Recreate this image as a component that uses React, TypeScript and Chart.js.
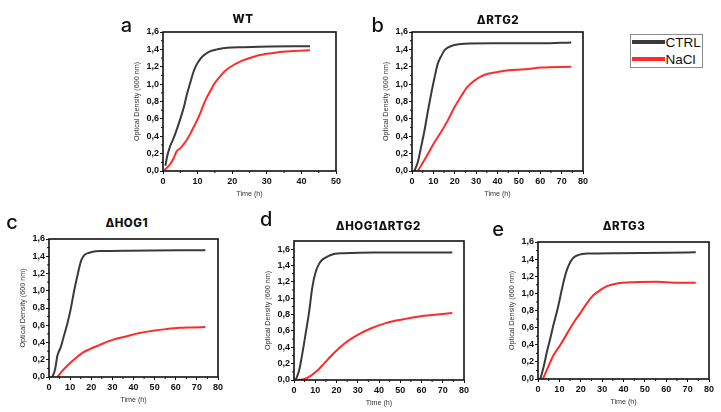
import React, { useEffect, useRef } from 'react';
import { Chart, registerables } from 'chart.js';
Chart.register(...registerables);

// ---------- DATA ----------
const seriesNames = ['CTRL', 'NaCl'];
const panelTitles = ['WT', 'ΔRTG2', 'ΔHOG1', 'ΔHOG1ΔRTG2', 'ΔRTG3'];
const panelLetters = ['a', 'b', 'c', 'd', 'e'];
const yAxisTitle = 'Optical Density (600 nm)';
const xAxisTitle = 'Time (h)';

// a – WT
const aCtrlT = [0.7, 1.2, 2.1, 3.1, 4.0, 5.0, 6.0, 6.9, 7.9, 8.8, 9.8, 10.8, 11.7, 13.7, 15.6, 18.5, 23.3, 28, 37.7, 42.5];
const aCtrl = [0.06, 0.17, 0.29, 0.38, 0.48, 0.6, 0.73, 0.88, 1.02, 1.14, 1.23, 1.29, 1.33, 1.38, 1.40, 1.42, 1.425, 1.43, 1.435, 1.435];
const aNaclT = [0.4, 1.2, 2.1, 3.1, 4.0, 5.0, 6.0, 6.9, 7.9, 8.8, 9.8, 10.8, 11.7, 12.7, 13.7, 14.6, 16.5, 18.5, 20.4, 22.3, 24.3, 28, 32.9, 37.7, 42.5];
const aNacl = [0.01, 0.04, 0.08, 0.15, 0.23, 0.26, 0.31, 0.36, 0.43, 0.50, 0.58, 0.67, 0.76, 0.85, 0.92, 0.99, 1.09, 1.17, 1.22, 1.26, 1.29, 1.335, 1.365, 1.38, 1.39];

// b – ΔRTG2
const bCtrlT = [1.1, 2.7, 4.2, 5.8, 7.3, 8.9, 10.5, 12, 13.6, 15.2, 16.7, 19.8, 24.5, 37, 60.5, 74.5];
const bCtrl = [0, 0.1, 0.27, 0.46, 0.67, 0.88, 1.07, 1.23, 1.32, 1.39, 1.42, 1.45, 1.465, 1.47, 1.47, 1.48];
const bNaclT = [2.7, 4.2, 7.3, 10.5, 13.6, 16.7, 19.8, 23, 26, 29.2, 32.3, 35.5, 40, 45, 52.8, 60.5, 74.5];
const bNacl = [0, 0.06, 0.19, 0.33, 0.45, 0.58, 0.73, 0.86, 0.97, 1.04, 1.09, 1.12, 1.14, 1.16, 1.17, 1.19, 1.20];

// c – ΔHOG1
const cCtrlT = [1.6, 2.9, 4.0, 5.5, 7.1, 8.7, 10.3, 11.9, 13.5, 15.1, 16.6, 19, 23.8, 38, 61.8, 74];
const cCtrl = [0, 0.09, 0.25, 0.34, 0.48, 0.62, 0.79, 1.0, 1.18, 1.34, 1.41, 1.44, 1.46, 1.465, 1.47, 1.47];
const cNaclT = [4.0, 6.3, 9.5, 12.7, 15.8, 19, 23.8, 30, 36.4, 42.8, 49.1, 55.5, 61.8, 68.1, 74];
const cNacl = [0, 0.07, 0.15, 0.22, 0.28, 0.32, 0.37, 0.43, 0.47, 0.51, 0.535, 0.555, 0.57, 0.575, 0.58];

// d – ΔHOG1ΔRTG2
const dCtrlT = [0.8, 2.4, 3.9, 5.5, 7.1, 8.6, 10.2, 11.8, 13.3, 15.7, 18.8, 23.5, 37.6, 61, 74.5];
const dCtrl = [0, 0.115, 0.32, 0.57, 0.83, 1.13, 1.32, 1.42, 1.47, 1.51, 1.54, 1.55, 1.56, 1.56, 1.56];
const dNaclT = [1.6, 4.7, 7.8, 11, 14.1, 17.3, 20.4, 23.5, 26.7, 29.8, 36.1, 42.4, 48.6, 55, 61.2, 67.5, 74.5];
const dNacl = [0, 0.01, 0.05, 0.115, 0.2, 0.29, 0.37, 0.44, 0.50, 0.55, 0.63, 0.69, 0.73, 0.76, 0.785, 0.80, 0.82];

// e – ΔRTG3
const eCtrlT = [1.1, 2.7, 4.2, 5.8, 7.3, 8.9, 10.5, 12, 13.6, 15.2, 16.7, 19, 23, 37, 60.5, 73.8];
const eCtrl = [0, 0.15, 0.32, 0.48, 0.64, 0.79, 0.97, 1.14, 1.28, 1.37, 1.42, 1.45, 1.465, 1.47, 1.475, 1.48];
const eNaclT = [2.3, 4.2, 5.8, 7.3, 10.5, 13.6, 16.7, 19.8, 23, 26, 29.2, 32.3, 37, 44.8, 55.8, 63.6, 73.8];
const eNacl = [0, 0.11, 0.2, 0.28, 0.40, 0.53, 0.66, 0.77, 0.89, 0.98, 1.04, 1.085, 1.115, 1.13, 1.135, 1.125, 1.125];

const xMaxes = [50, 80, 80, 80, 80];
const yMaxes = [1.6, 1.6, 1.6, 1.7, 1.6];

// ---------- STYLE / LAYOUT ----------
const CTRL_COLOR = '#3a3a3a';
const NACL_COLOR = '#ff2a2a';
const Y_W = 32;
const X_H = 30;
const PAD_T = 8;
const PAD_R = 10;

type Layout = {
  L: number; T: number; R: number; B: number;
  titleX: number; titleBase: number;
  letterX: number; letterBase: number;
};
const layouts: Layout[] = [
  { L: 163, T: 32, R: 336, B: 171, titleX: 243, titleBase: 24, letterX: 120.7, letterBase: 32.3 },
  { L: 412, T: 32, R: 583, B: 171, titleX: 498, titleBase: 24.7, letterX: 371.5, letterBase: 32.3 },
  { L: 49, T: 239, R: 218, B: 377, titleX: 126.7, titleBase: 228, letterX: 6.3, letterBase: 229 },
  { L: 294, T: 241, R: 464, B: 380, titleX: 378.3, titleBase: 230.7, letterX: 260, letterBase: 226.7 },
  { L: 538, T: 242, R: 709, B: 379, titleX: 624, titleBase: 231, letterX: 492.3, letterBase: 236 },
];

const panelData = [
  [aCtrlT, aCtrl, aNaclT, aNacl],
  [bCtrlT, bCtrl, bNaclT, bNacl],
  [cCtrlT, cCtrl, cNaclT, cNacl],
  [dCtrlT, dCtrl, dNaclT, dNacl],
  [eCtrlT, eCtrl, eNaclT, eNacl],
];

const framePlugin = {
  id: 'frameMinor',
  afterDatasetsDraw(chart: any) {
    const { ctx, chartArea, scales } = chart;
    const { left, top, right, bottom } = chartArea;
    ctx.save();
    ctx.strokeStyle = '#111';
    ctx.lineWidth = 1;
    ctx.beginPath();
    const xs = scales.x;
    for (let v = 5; v < xs.max; v += 10) {
      const px = xs.getPixelForValue(v);
      ctx.moveTo(px, bottom);
      ctx.lineTo(px, bottom + 2);
    }
    const ys = scales.y;
    for (let v = 0.1; v < ys.max - 0.001; v += 0.2) {
      const py = ys.getPixelForValue(v);
      ctx.moveTo(left, py);
      ctx.lineTo(left - 2, py);
    }
    ctx.stroke();
    ctx.lineWidth = 1.6;
    ctx.strokeRect(left, top, right - left, bottom - top);
    ctx.restore();
  },
};

const tickFont = { family: '"Liberation Sans", Arial, sans-serif', weight: 'bold' as const, size: 9 };
const titleFont = { family: '"Liberation Sans", Arial, sans-serif', size: 7.2, lineHeight: 1 };

function Panel({ idx }: { idx: number }) {
  const ref = useRef<HTMLCanvasElement>(null);
  const lay = layouts[idx];
  const cw = lay.R - lay.L + Y_W + PAD_R;
  const ch = lay.B - lay.T + PAD_T + X_H;
  useEffect(() => {
    const [ct, cv, nt, nv] = panelData[idx];
    const chart = new Chart(ref.current as HTMLCanvasElement, {
      type: 'line',
      data: {
        datasets: [
          {
            label: seriesNames[0],
            data: ct.map((t, i) => ({ x: t, y: cv[i] })),
            borderColor: CTRL_COLOR,
            borderWidth: 2,
            pointRadius: 0,
            cubicInterpolationMode: 'monotone',
            fill: false,
          },
          {
            label: seriesNames[1],
            data: nt.map((t, i) => ({ x: t, y: nv[i] })),
            borderColor: NACL_COLOR,
            borderWidth: 2,
            pointRadius: 0,
            cubicInterpolationMode: 'monotone',
            fill: false,
          },
        ],
      },
      options: {
        responsive: false,
        animation: false,
        layout: { padding: { top: PAD_T, right: PAD_R, left: 0, bottom: 0 } },
        plugins: { legend: { display: false }, tooltip: { enabled: false } },
        scales: {
          x: {
            type: 'linear',
            min: 0,
            max: xMaxes[idx],
            ticks: { stepSize: 10, font: tickFont, color: '#111', padding: 2, maxRotation: 0, autoSkip: false },
            grid: { drawOnChartArea: false, drawTicks: true, tickLength: 3, color: '#111' },
            border: { display: false },
            title: { display: true, text: xAxisTitle, font: titleFont, color: '#333', padding: { top: 0, bottom: 3.5 } },
            afterFit: (s: any) => { s.height = X_H; },
          },
          y: {
            type: 'linear',
            min: 0,
            max: yMaxes[idx],
            ticks: {
              stepSize: 0.2,
              includeBounds: false,
              font: tickFont,
              color: '#111',
              padding: 1,
              callback: (v: any) => Number(v).toFixed(1).replace('.', ','),
            },
            grid: { drawOnChartArea: false, drawTicks: true, tickLength: 3, color: '#111' },
            border: { display: false },
            title: { display: true, text: yAxisTitle, font: titleFont, color: '#333', padding: { top: 2.6, bottom: 0 } },
            afterFit: (s: any) => { s.width = Y_W; },
          },
        },
      },
      plugins: [framePlugin],
    } as any);
    return () => chart.destroy();
  }, [idx]);

  const titleSize = 11.5;
  const letterSize = 20;
  return (
    <>
      <canvas
        ref={ref}
        width={cw}
        height={ch}
        style={{ position: 'absolute', left: lay.L - Y_W, top: lay.T - PAD_T, width: cw, height: ch }}
      />
      <div
        style={{
          position: 'absolute',
          left: lay.titleX - 100,
          width: 200,
          top: lay.titleBase - 0.864 * titleSize,
          textAlign: 'center',
          fontFamily: 'Inter, sans-serif',
          fontWeight: 800,
          fontSize: titleSize,
          lineHeight: 1,
          letterSpacing: 0.5,
          color: '#111',
          whiteSpace: 'nowrap',
        }}
      >
        {panelTitles[idx]}
      </div>
      <div
        style={{
          position: 'absolute',
          left: lay.letterX,
          top: lay.letterBase - 0.864 * letterSize,
          fontFamily: 'Inter, sans-serif',
          fontWeight: 500,
          fontSize: letterSize,
          lineHeight: 1,
          color: '#111',
        }}
      >
        {panelLetters[idx]}
      </div>
    </>
  );
}

function Legend() {
  const items = [
    { name: seriesNames[0], color: CTRL_COLOR, y: 42, base: 47.3 },
    { name: seriesNames[1], color: NACL_COLOR, y: 59, base: 64.7 },
  ];
  return (
    <>
      <div
        style={{
          position: 'absolute',
          left: 630,
          top: 34,
          width: 73,
          height: 34,
          border: '1px solid #8c8c8c',
          boxSizing: 'border-box',
        }}
      />
      {items.map((it) => (
        <React.Fragment key={it.name}>
          <div style={{ position: 'absolute', left: 632, top: it.y - 1.75, width: 33, height: 3.5, background: it.color }} />
          <div
            style={{
              position: 'absolute',
              left: 665.5,
              top: it.base - 0.8465 * 13.5,
              fontFamily: '"Liberation Sans", Arial, sans-serif',
              fontSize: 13.5,
              lineHeight: 1,
              color: '#111',
            }}
          >
            {it.name}
          </div>
        </React.Fragment>
      ))}
    </>
  );
}

export default function App() {
  return (
    <div style={{ position: 'fixed', left: 0, top: 0, width: 721, height: 412, background: '#fff', overflow: 'hidden' }}>
      {layouts.map((_, i) => (
        <Panel key={i} idx={i} />
      ))}
      <Legend />
    </div>
  );
}
